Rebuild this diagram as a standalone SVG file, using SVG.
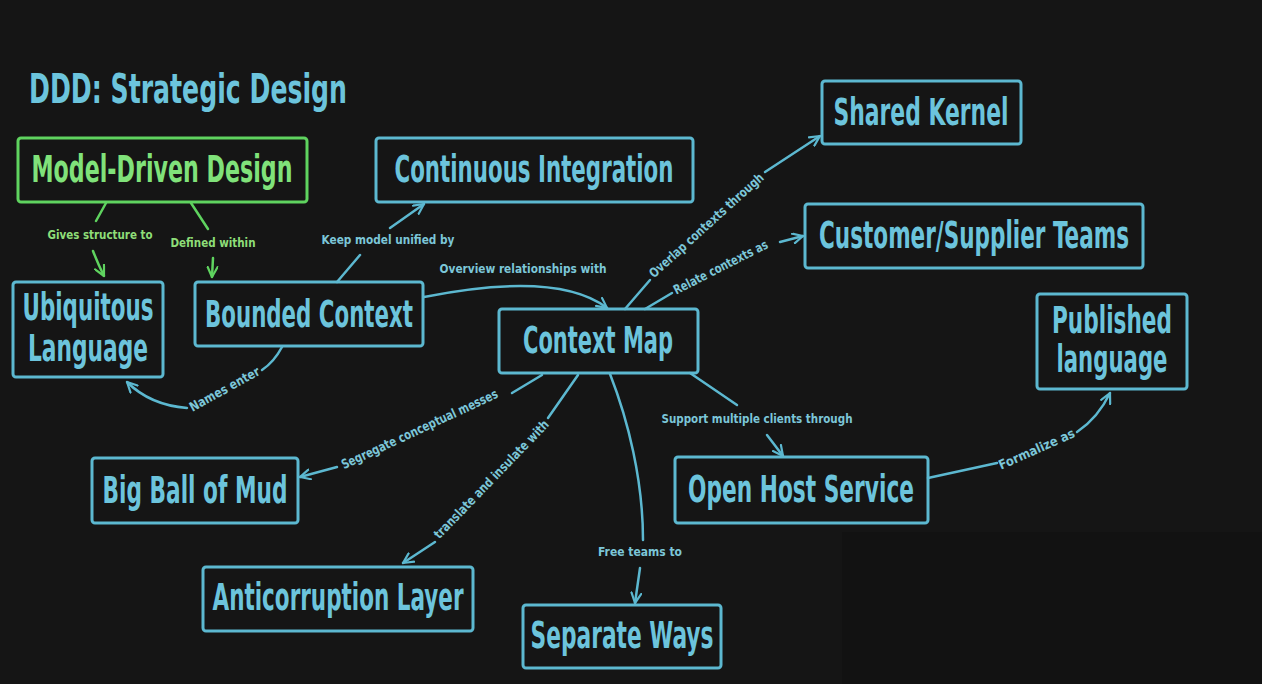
<svg xmlns="http://www.w3.org/2000/svg" width="1262" height="684" viewBox="0 0 1262 684">
<defs>
<style>
.bg{fill:#151515}
.box{fill:none;stroke:#5cb8d0;stroke-width:3}
.gbox{fill:none;stroke:#5fd35f;stroke-width:3}
.t{font-family:"DejaVu Sans Condensed","Liberation Sans Narrow","Liberation Sans",sans-serif;font-weight:bold;fill:#6cc4dc;font-size:37px;text-anchor:middle}
.gt{fill:#80e27a}
.title{font-family:"DejaVu Sans Condensed","Liberation Sans Narrow","Liberation Sans",sans-serif;font-weight:bold;fill:#6cc4dc;font-size:41px}
.l{font-family:"DejaVu Sans Condensed","Liberation Sans Narrow","Liberation Sans",sans-serif;font-weight:bold;fill:#7cc6d8;font-size:13px;text-anchor:middle;dominant-baseline:middle}
.gl{fill:#8ede78}
.c{fill:none;stroke:#5cb8d0;stroke-width:2.5;stroke-linecap:round}
.gc{fill:none;stroke:#5fd35f;stroke-width:2.5;stroke-linecap:round}
</style>
<marker id="ah" viewBox="0 0 12 12" refX="11" refY="6" markerWidth="12" markerHeight="12" markerUnits="userSpaceOnUse" orient="auto">
<path d="M1,1 L11,6 L1,11" fill="none" stroke="#5cb8d0" stroke-width="2.2" stroke-linecap="round" stroke-linejoin="round"/>
</marker>
<marker id="gah" viewBox="0 0 12 12" refX="11" refY="6" markerWidth="12" markerHeight="12" markerUnits="userSpaceOnUse" orient="auto">
<path d="M1,1 L11,6 L1,11" fill="none" stroke="#5fd35f" stroke-width="2.2" stroke-linecap="round" stroke-linejoin="round"/>
</marker>
</defs>
<rect class="bg" x="0" y="0" width="1262" height="684"/>
<rect x="842" y="532" width="420" height="152" fill="#121212"/>
<text class="title" x="29" y="103" textLength="318" lengthAdjust="spacingAndGlyphs">DDD: Strategic Design</text>

<g id="connectors">
<path class="gc" d="M106,203 L96,221"/>
<path class="gc" d="M93,251 Q98,264 104,276" marker-end="url(#gah)"/>
<text class="l gl" x="100" y="235" textLength="105" lengthAdjust="spacingAndGlyphs">Gives structure to</text>
<path class="gc" d="M191,203 L208,229"/>
<path class="gc" d="M213,258 L212,277" marker-end="url(#gah)"/>
<text class="l gl" x="213" y="243" textLength="85" lengthAdjust="spacingAndGlyphs">Defined within</text>

<path class="c" d="M337,282 L360,255"/>
<path class="c" d="M390,228 L424,204" marker-end="url(#ah)"/>
<text class="l" x="388" y="240" textLength="133" lengthAdjust="spacingAndGlyphs">Keep model unified by</text>

<path class="c" d="M424,297 C500,282 570,280 607,308" marker-end="url(#ah)"/>
<text class="l" x="523" y="269" textLength="167" lengthAdjust="spacingAndGlyphs">Overview relationships with</text>

<path class="c" d="M282,347 Q274,362 262,370"/>
<path class="c" d="M187,408 Q150,405 127,382" marker-end="url(#ah)"/>
<text class="l" transform="translate(225,390) rotate(-29)" textLength="78" lengthAdjust="spacingAndGlyphs">Names enter</text>

<path class="c" d="M625,309 L650,280"/>
<path class="c" d="M765,172 L820,136" marker-end="url(#ah)"/>
<text class="l" transform="translate(707,226) rotate(-42)" textLength="149" lengthAdjust="spacingAndGlyphs">Overlap contexts through</text>

<path class="c" d="M645,309 L672,293"/>
<path class="c" d="M780,242 L803,236" marker-end="url(#ah)"/>
<text class="l" transform="translate(721,268) rotate(-27)" textLength="104" lengthAdjust="spacingAndGlyphs">Relate contexts as</text>

<path class="c" d="M690,373 L737,405"/>
<path class="c" d="M767,435 L783,456" marker-end="url(#ah)"/>
<text class="l" x="757" y="419" textLength="191" lengthAdjust="spacingAndGlyphs">Support multiple clients through</text>

<path class="c" d="M928,478 Q965,470 997,463"/>
<path class="c" d="M1077,432 Q1098,418 1110,393" marker-end="url(#ah)"/>
<text class="l" transform="translate(1037,450) rotate(-24)" textLength="82" lengthAdjust="spacingAndGlyphs">Formalize as</text>

<path class="c" d="M542,375 L512,393"/>
<path class="c" d="M337,467 L300,477" marker-end="url(#ah)"/>
<text class="l" transform="translate(420,430) rotate(-25)" textLength="171" lengthAdjust="spacingAndGlyphs">Segregate conceptual messes</text>

<path class="c" d="M578,375 L548,418"/>
<path class="c" d="M435,542 L403,563" marker-end="url(#ah)"/>
<text class="l" transform="translate(492,480) rotate(-46)" textLength="159" lengthAdjust="spacingAndGlyphs">translate and insulate with</text>

<path class="c" d="M610,374 C628,420 643,480 643,540"/>
<path class="c" d="M640,568 L635,603" marker-end="url(#ah)"/>
<text class="l" x="640" y="552" textLength="84" lengthAdjust="spacingAndGlyphs">Free teams to</text>
</g>

<g id="model-driven-design">
<rect class="gbox" x="18" y="138" width="289" height="64" rx="3"/>
<text class="t gt" x="162" y="182" textLength="261" lengthAdjust="spacingAndGlyphs">Model-Driven Design</text>
</g>
<g id="continuous-integration">
<rect class="box" x="376" y="138" width="317" height="64" rx="3"/>
<text class="t" x="534" y="182" textLength="279" lengthAdjust="spacingAndGlyphs">Continuous Integration</text>
</g>
<g id="shared-kernel">
<rect class="box" x="822" y="81" width="199" height="63" rx="3"/>
<text class="t" x="921" y="125" textLength="175" lengthAdjust="spacingAndGlyphs">Shared Kernel</text>
</g>
<g id="customer-supplier">
<rect class="box" x="805" y="204" width="338" height="64" rx="3"/>
<text class="t" x="974" y="248" textLength="310" lengthAdjust="spacingAndGlyphs">Customer/Supplier Teams</text>
</g>
<g id="ubiquitous-language">
<rect class="box" x="13" y="282" width="150" height="95" rx="3"/>
<text class="t" x="88" y="320" textLength="131" lengthAdjust="spacingAndGlyphs">Ubiquitous</text>
<text class="t" x="88" y="361" textLength="120" lengthAdjust="spacingAndGlyphs">Language</text>
</g>
<g id="bounded-context">
<rect class="box" x="195" y="282" width="228" height="64" rx="3"/>
<text class="t" x="309" y="327" textLength="208" lengthAdjust="spacingAndGlyphs">Bounded Context</text>
</g>
<g id="context-map">
<rect class="box" x="499" y="309" width="199" height="64" rx="3"/>
<text class="t" x="598" y="353" textLength="150" lengthAdjust="spacingAndGlyphs">Context Map</text>
</g>
<g id="published-language">
<rect class="box" x="1037" y="294" width="150" height="95" rx="3"/>
<text class="t" x="1112" y="333" textLength="120" lengthAdjust="spacingAndGlyphs">Published</text>
<text class="t" x="1112" y="372" textLength="111" lengthAdjust="spacingAndGlyphs">language</text>
</g>
<g id="big-ball-of-mud">
<rect class="box" x="92" y="458" width="206" height="65" rx="3"/>
<text class="t" x="195" y="503" textLength="185" lengthAdjust="spacingAndGlyphs">Big Ball of Mud</text>
</g>
<g id="open-host-service">
<rect class="box" x="675" y="457" width="253" height="66" rx="3"/>
<text class="t" x="801" y="502" textLength="226" lengthAdjust="spacingAndGlyphs">Open Host Service</text>
</g>
<g id="anticorruption-layer">
<rect class="box" x="203" y="567" width="270" height="64" rx="3"/>
<text class="t" x="338" y="610" textLength="251" lengthAdjust="spacingAndGlyphs">Anticorruption Layer</text>
</g>
<g id="separate-ways">
<rect class="box" x="523" y="605" width="198" height="63" rx="3"/>
<text class="t" x="622" y="648" textLength="183" lengthAdjust="spacingAndGlyphs">Separate Ways</text>
</g>
</svg>
